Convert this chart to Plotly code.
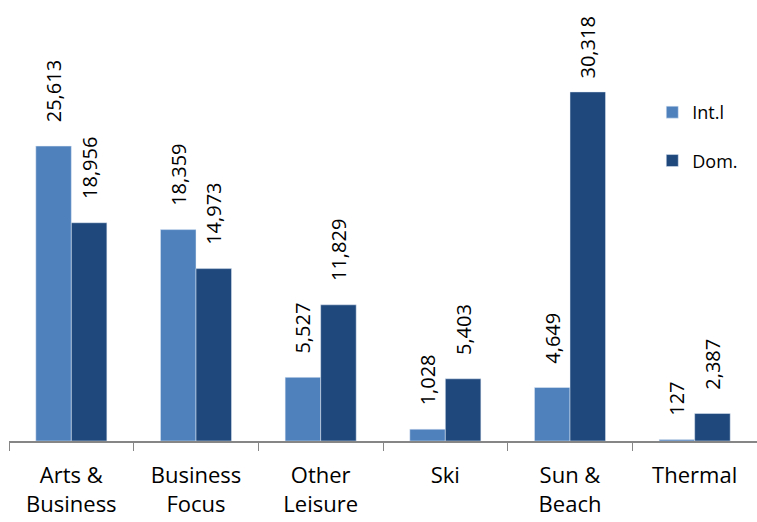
import plotly.graph_objects as go

categories = ["Arts &<br>Business", "Business<br>Focus", "Other<br>Leisure", "Ski", "Sun &<br>Beach", "Thermal"]
intl = [25613, 18359, 5527, 1028, 4649, 127]
dom = [18956, 14973, 11829, 5403, 30318, 2387]

font = "Open Sans, Liberation Sans, sans-serif"
YMAX = 38300


def labels(values):
    # leading non-breaking spaces give the gap between bar top and rotated label;
    # the tallest label is pulled closer so it stays inside the chart
    out = []
    for v in values:
        pad = 4 if v < 0.75 * YMAX else 2
        out.append("\u00a0" * pad + f"{v:,}")
    return out


fig = go.Figure()
fig.add_trace(go.Bar(
    x=categories, y=intl, name="Int.l", marker_color="#4F81BD",
    text=labels(intl), textposition="outside", textangle=-90,
    textfont=dict(size=20, color="#000000", family=font), cliponaxis=False,
    constraintext="none", legendgroup="a",
))
fig.add_trace(go.Bar(
    x=categories, y=dom, name="Dom.", marker_color="#1F497D",
    text=labels(dom), textposition="outside", textangle=-90,
    textfont=dict(size=20, color="#000000", family=font), cliponaxis=False,
    constraintext="none", legendgroup="b",
))
fig.update_layout(
    width=757, height=522,
    margin=dict(l=9, r=0, t=0, b=81),
    paper_bgcolor="white", plot_bgcolor="white",
    barmode="group", bargap=0.43, bargroupgap=0,
    font=dict(family=font, size=18, color="#000000"),
    showlegend=True,
    legend=dict(x=0.86, y=0.787, xanchor="left", yanchor="top",
                font=dict(size=18, family=font), tracegroupgap=22,
                bgcolor="rgba(0,0,0,0)", itemwidth=30),
    xaxis=dict(showline=True, linecolor="#868686", linewidth=1.5,
               ticks="outside", tickson="boundaries", ticklen=8, tickcolor="#868686",
               tickfont=dict(size=22, family=font, color="#000000"), showgrid=False,
               ticklabelstandoff=14),
    yaxis=dict(range=[0, YMAX], visible=False, showgrid=False),
)
fig.write_html("out.html")
